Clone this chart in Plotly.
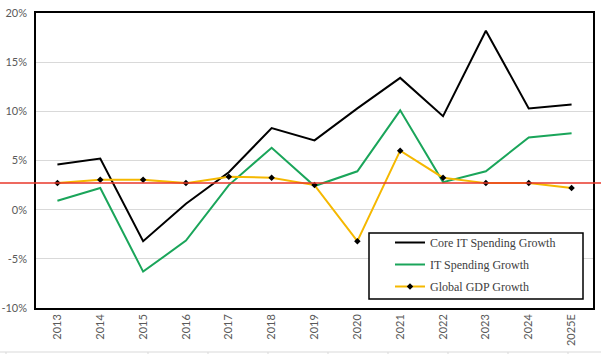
import plotly.graph_objects as go

years = ["2013", "2014", "2015", "2016", "2017", "2018", "2019", "2020", "2021", "2022", "2023", "2024", "2025E"]
core_it = [4.6, 5.2, -3.2, 0.6, 3.8, 8.3, 7.05, 10.3, 13.4, 9.5, 18.2, 10.3, 10.7]
it_spend = [0.9, 2.2, -6.3, -3.15, 2.5, 6.3, 2.4, 3.9, 10.1, 2.8, 3.9, 7.35, 7.76]
gdp = [2.7, 3.05, 3.05, 2.7, 3.35, 3.25, 2.5, -3.2, 6.0, 3.25, 2.7, 2.7, 2.2]
gdp_avg = 2.7
y_ticks = [-10, -5, 0, 5, 10, 15, 20]
y_labels = ["-10%", "-5%", "0%", "5%", "10%", "15%", "20%"]

W, H = 601, 354
L, R, T, B = 36, 8, 13, 46
pw = W - L - R
ph = H - T - B

def px_x(x):
    return (x - L) / pw

def px_y(y):
    return (T + ph - y) / ph

fig = go.Figure()
fig.add_trace(go.Scatter(x=years, y=core_it, mode="lines", name="Core IT Spending Growth",
                         legendgroup="a", line=dict(color="black", width=2)))
fig.add_trace(go.Scatter(x=years, y=it_spend, mode="lines", name="IT Spending Growth",
                         legendgroup="b", line=dict(color="#1aa55a", width=2)))
fig.add_trace(go.Scatter(x=years, y=gdp, mode="lines+markers", name="Global GDP Growth",
                         legendgroup="c", line=dict(color="#f5b800", width=2),
                         marker=dict(symbol="diamond", size=5, color="black")))

fig.add_shape(type="line", xref="paper", yref="y", x0=-L / pw, x1=(W - L) / pw,
              y0=gdp_avg, y1=gdp_avg, line=dict(color="#e8372a", width=1.5), layer="above")

# legend box
fig.add_shape(type="rect", xref="paper", yref="paper", x0=px_x(369), x1=px_x(583),
              y0=px_y(299), y1=px_y(233), line=dict(color="black", width=1.5),
              fillcolor="white", layer="above")

# faint table lines at bottom edge
fig.add_shape(type="line", xref="paper", yref="paper", x0=-L / pw, x1=(W - L) / pw,
              y0=px_y(352), y1=px_y(352), line=dict(color="#d9d9d9", width=1))
for xp in [6, 148, 208, 268, 328, 388, 448, 508, 568]:
    fig.add_shape(type="line", xref="paper", yref="paper",
                  x0=px_x(xp), x1=px_x(xp), y0=px_y(352), y1=px_y(362),
                  line=dict(color="#d9d9d9", width=1))

fig.update_layout(
    width=W, height=H,
    margin=dict(l=L, r=R, t=T, b=B, autoexpand=False),
    paper_bgcolor="white", plot_bgcolor="white",
    showlegend=True,
    legend=dict(x=px_x(390), y=px_y(228), xanchor="left", yanchor="top",
                borderwidth=0, bgcolor="rgba(0,0,0,0)",
                font=dict(family="Liberation Serif", size=12, color="#404040"),
                tracegroupgap=3, itemwidth=30),
    xaxis=dict(type="category", range=[-0.5, len(years) - 0.5], tickangle=-90, showgrid=False,
               showline=True, linecolor="black", linewidth=1.5, mirror=True, automargin=False,
               ticks="", tickfont=dict(family="Lato", size=11, color="#595959")),
    yaxis=dict(range=[-10, 20], tickvals=y_ticks, ticktext=y_labels,
               showgrid=True, gridcolor="#d9d9d9", gridwidth=1, zeroline=False,
               showline=True, linecolor="black", linewidth=1.5, mirror=True,
               ticklabelstandoff=5, automargin=False,
               ticks="", tickfont=dict(family="Lato", size=11, color="#595959")),
)

fig.write_html("out.html")
